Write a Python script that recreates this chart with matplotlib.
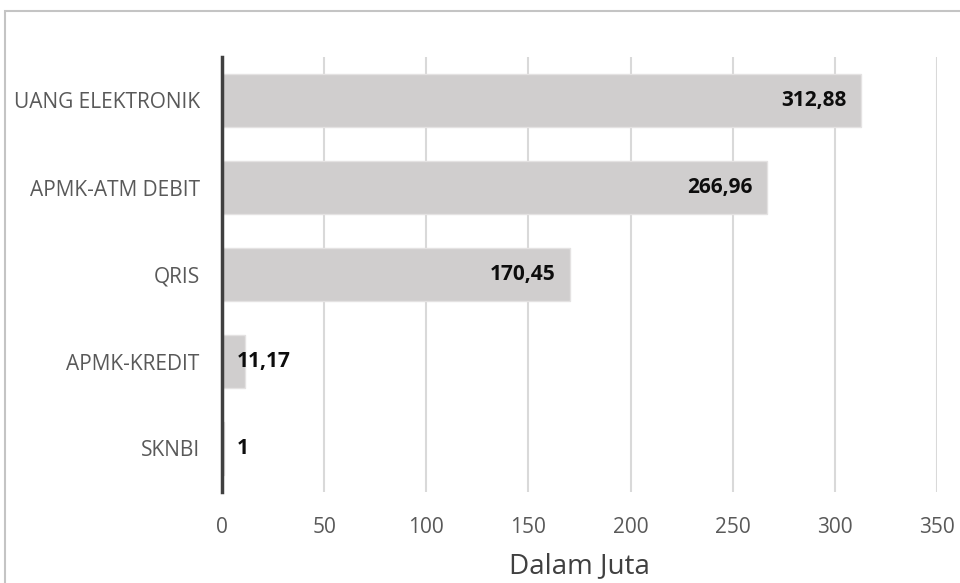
import matplotlib
matplotlib.use("Agg")
import matplotlib.pyplot as plt
from matplotlib.patches import Rectangle

categories = ["SKNBI", "APMK-KREDIT", "QRIS", "APMK-ATM DEBIT", "UANG ELEKTRONIK"]
values = [1, 11.17, 170.45, 266.96, 312.88]
value_labels = ["1", "11,17", "170,45", "266,96", "312,88"]
xticks = [0, 50, 100, 150, 200, 250, 300, 350]

plt.rcParams['font.family'] = ['Open Sans', 'DejaVu Sans']

fig = plt.figure(figsize=(9.6, 5.83), dpi=100)
ax = fig.add_axes([222/960, 1-492/583, (937-222)/960, (492-57)/583])

# figure border
fig.patches.append(Rectangle((5/960, -0.1), 1.2, 1-11/583+0.1, transform=fig.transFigure,
                             fill=False, edgecolor='#c4c4c4', linewidth=1.5, zorder=0))

y = list(range(len(categories)))
ax.barh(y, values, height=0.6, color='#d0cece', edgecolor='#e4e2e2', linewidth=1, zorder=2)

for yi, v, lab in zip(y, values, value_labels):
    if v > 50:
        ax.annotate(lab, (v, yi), xytext=(-15, 0), textcoords='offset pixels',
                    ha='right', va='center', fontsize=15, fontweight='bold', color='#0d0d0d', zorder=3)
    else:
        ax.annotate(lab, (0, yi), xytext=(15, 0), textcoords='offset pixels',
                    ha='left', va='center', fontsize=15, fontweight='bold', color='#0d0d0d', zorder=3)

ax.set_xlim(0, 350)
ax.set_ylim(-0.5, 4.5)
ax.set_xticks(xticks)
ax.set_xticklabels([str(t) for t in xticks])
ax.set_yticks(y)
ax.set_yticklabels(categories)

ax.grid(axis='x', color='#d9d9d9', linewidth=1.5, zorder=0)
ax.set_axisbelow(True)
for s in ['top', 'right', 'bottom']:
    ax.spines[s].set_visible(False)
ax.spines['left'].set_color('#404040')
ax.spines['left'].set_linewidth(2.5)
ax.spines['left'].set_zorder(4)

ax.tick_params(axis='both', length=0, colors='#595959', labelsize=15)
ax.tick_params(axis='x', pad=18)
ax.tick_params(axis='y', pad=16)
ax.set_xlabel("Dalam Juta", fontsize=20, color='#404040', labelpad=10)

fig.savefig("out.png", dpi=100)
